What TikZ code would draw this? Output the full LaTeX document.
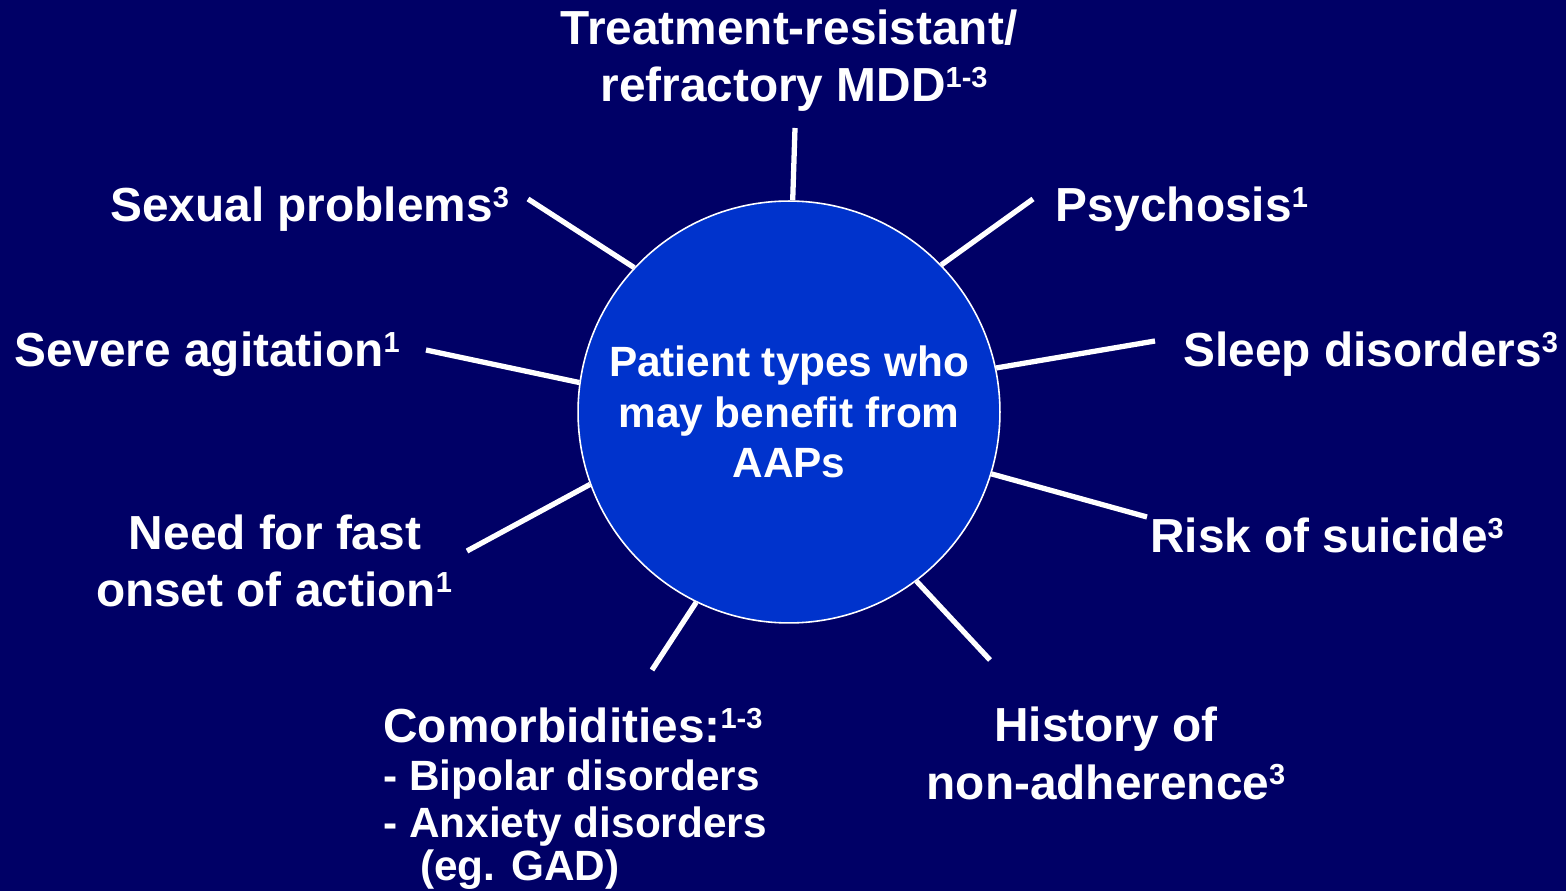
\documentclass[tikz,border=0pt]{standalone}
\usepackage{fontspec}
\setmainfont{Liberation Sans}
\definecolor{navybg}{HTML}{000066}
\definecolor{hubblue}{HTML}{0033CC}
% raised reference numbers after a label
\newcommand\refnum[1]{\raisebox{0.30em}{\fontsize{16.5}{16.5}\selectfont #1}}

\begin{document}
\begin{tikzpicture}[x=0.02cm,y=-0.02cm,
  lbl/.style={text=white,inner sep=0pt,font=\bfseries\fontsize{27.2}{32.3}\selectfont},
  sublbl/.style={text=white,inner sep=0pt,font=\bfseries\fontsize{24.1}{28.9}\selectfont},
  spoke/.style={draw=white,line width=3pt},
  hubnode/.style={circle,fill=hubblue,draw=white,line width=0.9pt,
    minimum size=8.44cm,inner sep=0pt,align=center,text=white,
    font=\bfseries\fontsize{24.1}{28.9}\selectfont}]

  % background
  \fill[navybg] (0,0) rectangle (1566,891);

  % central circle
  \node[hubnode] (hub) at (789,412) {Patient types who\\may benefit from~\\AAPs};

  % free ends of the spokes
  \coordinate (eTop)   at (795,128);
  \coordinate (ePsy)   at (1033,199);
  \coordinate (eSleep) at (1155,341);
  \coordinate (eSuic)  at (1147,517);
  \coordinate (eHist)  at (990,660);
  \coordinate (eComo)  at (652,670);
  \coordinate (eFast)  at (467,551);
  \coordinate (eAgit)  at (426,350);
  \coordinate (eSex)   at (528,199);

  % spokes
  \draw[spoke] (hub.89.2)  -- (eTop);
  \draw[spoke] (hub.44.2)  -- (ePsy);
  \draw[spoke] (hub.12.7)  -- (eSleep);
  \draw[spoke] (hub.-17.4) -- (eSuic);
  \draw[spoke] (hub.-53.9) -- (eHist);
  \draw[spoke] (hub.-116.8) -- (eComo);
  \draw[spoke] (hub.200.4) -- (eFast);
  \draw[spoke] (hub.172.1) -- (eAgit);
  \draw[spoke] (hub.137.9) -- (eSex);

  % labels
  \node[lbl,anchor=base] (mdd1) at (789,45) {Treatment-resistant/};
  \node[lbl,anchor=base] (mdd2) at (794,102) {refractory MDD\refnum{1-3}};
  \node[lbl,anchor=base west] (sex) at (110,222) {Sexual problems\refnum{3}};
  \node[lbl,anchor=base west] (psy) at (1055,222) {Psychosis\refnum{1}};
  \node[lbl,anchor=base west] (agit) at (14,367) {Severe agitation\refnum{1}};
  \node[lbl,anchor=base west] (sleep) at (1183,367) {Sleep disorders\refnum{3}};
  \node[lbl,anchor=base west] (suic) at (1150,553) {Risk of suicide\refnum{3}};
  \node[lbl,anchor=base] (fast1) at (275,550) {Need for fast};
  \node[lbl,anchor=base] (fast2) at (274,607) {onset of action\refnum{1}};
  \node[lbl,anchor=base west] (como) at (383,743) {Comorbidities:\refnum{1-3}};
  \node[sublbl,anchor=base west] (bip) at (383,790) {- Bipolar disorders};
  \node[sublbl,anchor=base west] (anx) at (383,837) {- Anxiety disorders};
  \node[sublbl,anchor=base west] (gad) at (420,880) {(eg. GAD)};
  \node[lbl,anchor=base] (hist1) at (1106,742) {History of};
  \node[lbl,anchor=base] (hist2) at (1106,799) {non-adherence\refnum{3}};
\end{tikzpicture}
\end{document}
